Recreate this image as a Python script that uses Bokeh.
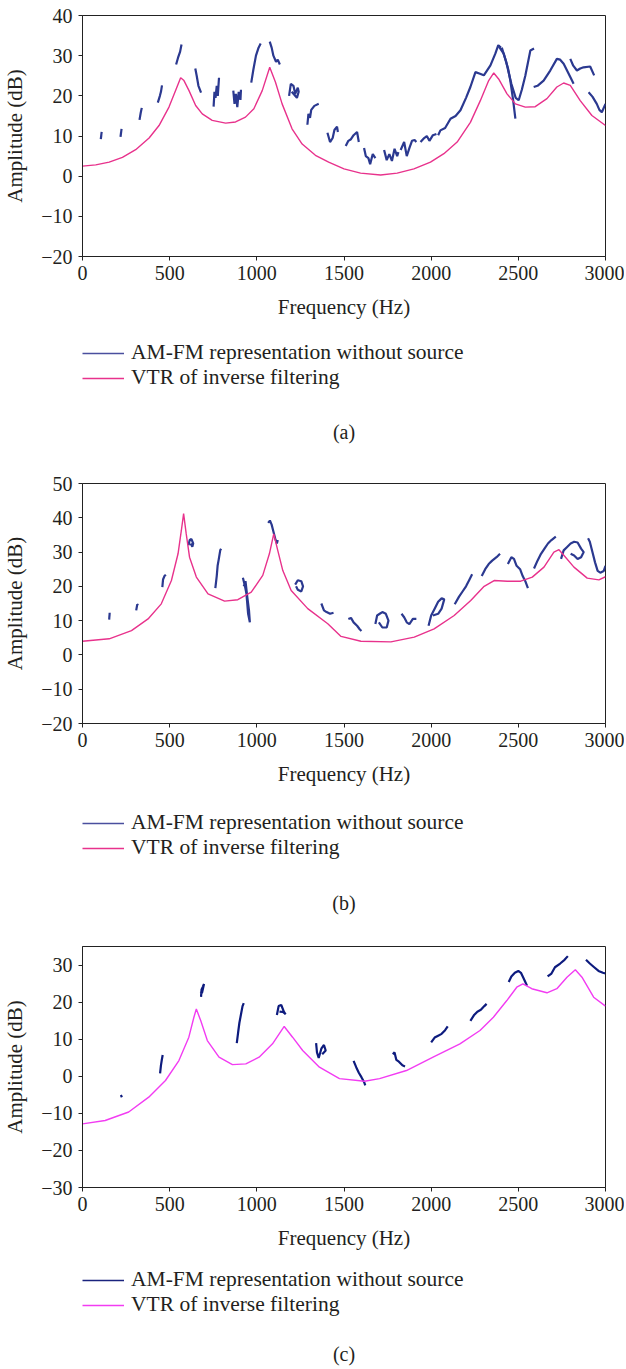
from bokeh.plotting import figure
from bokeh.layouts import column
from bokeh.models import FixedTicker, Range1d, Legend, LegendItem, Label
from bokeh.embed import file_html
from bokeh.resources import INLINE

FONT = "Liberation Serif"
TXT = "#231F20"
NAN = float("nan")

freq_ticks = [0, 500, 1000, 1500, 2000, 2500, 3000]
legend_labels = ["AM-FM representation without source", "VTR of inverse filtering"]
x_title = "Frequency (Hz)"
y_title = "Amplitude (dB)"

# ---------------- panel (a) ----------------
a_yticks = [-20, -10, 0, 10, 20, 30, 40]
a_vtr_freq = [0, 76, 153, 229, 305, 382, 439, 496, 534, 563, 582, 611, 649, 687, 744, 821, 878, 935,
              983, 1031, 1074, 1107, 1145, 1202, 1260, 1336, 1412, 1500, 1595, 1710, 1805, 1901,
              1996, 2073, 2149, 2225, 2282, 2330, 2359, 2387, 2435, 2483, 2540, 2597, 2664, 2721,
              2760, 2798, 2855, 2922, 3000]
a_vtr_db = [2.5, 2.8, 3.5, 4.7, 6.6, 9.5, 12.6, 17.2, 21.3, 24.5, 23.8, 21.3, 17.6, 15.5, 13.9, 13.2,
            13.5, 14.7, 16.8, 21.3, 27.1, 23.4, 18.0, 11.8, 8.0, 5.2, 3.5, 1.8, 0.75, 0.3, 0.75, 1.8,
            3.5, 5.6, 8.5, 13.4, 18.8, 23.8, 25.7, 24.2, 20.5, 18.0, 17.2, 17.3, 19.3, 22.2,
            23.2, 22.6, 18.8, 15.1, 12.6]
a_amfm_freq = [
    [105, 110],
    [218, 224],
    [327, 334, 340],
    [432, 444, 450, 456],
    [537, 548, 560, 568],
    [647, 655, 665, 680],
    [752, 757, 763, 770, 776, 783],
    [865, 872, 880, 888, 896, 906, 909],
    [968, 980, 995, 1010, 1022],
    [1074, 1085, 1095, 1110, 1120, 1132],
    [1185, 1195, 1210, 1220, 1235, 1240, 1230, 1200],
    [1290, 1296, 1305, 1312, 1330, 1355],
    [1405, 1420, 1435, 1445, 1460, 1465],
    [1510, 1525, 1540, 1555, 1575, 1585],
    [1615, 1625, 1640, 1650, 1665, 1680],
    [1730, 1745, 1760, 1775, 1790, 1805, 1812],
    [1825, 1845, 1860, 1875, 1890, 1905, 1915],
    [1939, 1960, 1975, 1990, 2010, 2030],
    [2040, 2053, 2080, 2111, 2140, 2168, 2200, 2225, 2254, 2280, 2302, 2340, 2368, 2385, 2400],
    [2385, 2416, 2440, 2454, 2470, 2483],
    [2405, 2430, 2460, 2485, 2502, 2520, 2540, 2569, 2590],
    [2588, 2610, 2645, 2683, 2721, 2740, 2760, 2798, 2817],
    [2798, 2815, 2836, 2855, 2874, 2912, 2935],
    [2903, 2925, 2950, 2965, 2979, 3000],
]
a_amfm_db = [
    [9.2, 11.0],
    [9.8, 11.8],
    [14.0, 15.8, 17.0],
    [18.3, 20.0, 21.0, 22.6],
    [27.8, 29.5, 31.0, 32.8],
    [26.8, 25.0, 22.5, 20.8],
    [17.3, 21.0, 19.5, 22.5, 20.0, 24.5],
    [21.3, 18.0, 20.5, 17.2, 21.0, 19.0, 21.5],
    [23.3, 26.5, 30.0, 32.0, 33.0],
    [33.5, 32.0, 30.0, 28.5, 29.0, 27.8],
    [20.0, 23.0, 22.5, 20.5, 22.0, 21.0, 19.5, 21.0],
    [12.8, 15.5, 14.5, 16.5, 17.5, 18.0],
    [10.8, 8.5, 9.5, 11.5, 12.3, 11.0],
    [7.5, 8.8, 9.2, 10.2, 11.0, 8.5],
    [7.0, 5.0, 4.5, 3.0, 5.5, 4.5],
    [6.5, 4.0, 5.5, 3.8, 6.8, 5.0, 6.0],
    [6.5, 8.5, 5.0, 7.0, 8.8, 9.0, 8.5],
    [8.5, 9.5, 10.0, 8.8, 10.2, 10.5],
    [10.2, 11.4, 12.0, 14.3, 15.0, 16.4, 19.5, 22.2, 25.9, 25.5, 25.1, 27.6, 30.5, 32.6, 32.0],
    [32.5, 30.5, 27.0, 23.8, 19.0, 14.3],
    [32.0, 28.5, 23.0, 19.5, 18.9, 21.5, 25.0, 31.3, 31.8],
    [22.2, 22.5, 23.8, 26.3, 29.2, 29.0, 28.0, 24.7, 23.0],
    [29.2, 27.5, 26.3, 26.8, 27.1, 27.3, 25.1],
    [20.9, 19.8, 18.0, 16.5, 15.9, 18.0],
]

# ---------------- panel (b) ----------------
b_yticks = [-20, -10, 0, 10, 20, 30, 40, 50]
b_vtr_freq = [0, 153, 281, 376, 452, 510, 548, 567, 580, 595, 614, 653, 720, 815, 891, 968, 1034,
              1072, 1097, 1120, 1149, 1197, 1292, 1407, 1483, 1597, 1769, 1903, 2017, 2132, 2227,
              2304, 2361, 2437, 2514, 2580, 2647, 2704, 2733, 2762, 2819, 2895, 2962, 3000]
b_vtr_db = [4.0, 4.7, 7.1, 10.5, 14.9, 21.7, 29.5, 36.3, 41.2, 35.3, 28.5, 22.7, 17.8, 15.7, 16.1,
            18.3, 23.2, 29.5, 35.3, 30.5, 24.6, 18.8, 13.5, 9.1, 5.4, 4.0, 3.8, 5.2, 7.6, 11.5,
            15.9, 20.0, 21.7, 21.5, 21.5, 22.7, 25.6, 30.0, 30.7, 29.0, 25.6, 22.4, 21.9, 22.8]
b_amfm_freq = [
    [153, 156],
    [308, 314, 320],
    [458, 462, 470, 478],
    [608, 615, 625, 635, 630, 620],
    [762, 770, 775, 782, 790, 795],
    [920, 930, 940, 945, 950, 960, 955, 945, 935, 925],
    [1065, 1075, 1085, 1095, 1105, 1115, 1120],
    [1220, 1235, 1255, 1265, 1255, 1235, 1225],
    [1370, 1385, 1400, 1420, 1440],
    [1525, 1540, 1555, 1575, 1590, 1600],
    [1680, 1690, 1705, 1720, 1740, 1755, 1745, 1720, 1700],
    [1830, 1845, 1860, 1875, 1895, 1915],
    [1985, 2000, 2020, 2040, 2060, 2075, 2060, 2040, 2010],
    [2135, 2160, 2180, 2200, 2220, 2235],
    [2290, 2310, 2330, 2350, 2375, 2395],
    [2440, 2460, 2475, 2490, 2510, 2525, 2540, 2555],
    [2590, 2610, 2630, 2650, 2670, 2690, 2715],
    [2745, 2760, 2780, 2800, 2820, 2840, 2860, 2875, 2860, 2840, 2820, 2800],
    [2900, 2910, 2925, 2940, 2955, 2970, 2990, 3000],
]
b_amfm_db = [
    [10.3, 12.3],
    [13.0, 14.7, 14.5],
    [19.8, 22.0, 23.0, 23.4],
    [32.0, 33.5, 33.8, 32.5, 31.6, 32.5],
    [19.5, 23.0, 26.0, 28.0, 30.5, 31.0],
    [22.5, 20.5, 18.0, 15.0, 12.0, 9.5, 13.0, 17.0, 21.5, 20.0],
    [38.5, 39.2, 38.0, 36.0, 34.0, 32.5, 33.5],
    [20.5, 21.8, 21.5, 20.0, 18.5, 19.0, 20.0],
    [15.0, 13.0, 12.5, 12.0, 12.3],
    [10.5, 10.8, 9.5, 8.5, 7.5, 7.0],
    [9.0, 11.5, 12.0, 12.5, 12.0, 10.0, 8.0, 8.0, 9.5],
    [12.0, 11.0, 9.5, 9.0, 10.5, 10.5],
    [8.5, 11.5, 13.5, 15.5, 16.5, 16.2, 13.5, 12.0, 11.5],
    [14.8, 17.0, 18.5, 20.0, 22.0, 23.5],
    [23.0, 25.0, 26.5, 27.5, 28.5, 29.5],
    [26.5, 28.5, 28.0, 26.0, 25.0, 23.0, 21.5, 19.5],
    [25.2, 27.5, 29.5, 31.0, 32.5, 33.5, 34.5],
    [28.0, 30.5, 31.5, 32.5, 33.0, 32.8, 31.0, 30.0, 28.5, 28.0, 29.0, 29.5],
    [34.0, 33.0, 30.0, 27.0, 24.5, 24.0, 24.5, 26.0],
]

# ---------------- panel (c) ----------------
c_yticks = [-30, -20, -10, 0, 10, 20, 30]
c_vtr_freq = [0, 130, 265, 380, 476, 553, 610, 639, 653, 678, 716, 783, 860, 937, 1013, 1090, 1157,
              1205, 1263, 1359, 1474, 1618, 1704, 1858, 2011, 2165, 2280, 2357, 2434, 2491, 2526,
              2577, 2664, 2721, 2779, 2827, 2865, 2932, 3000]
c_vtr_db = [-12.8, -11.9, -9.6, -5.6, -1.1, 4.3, 10.6, 16.0, 18.2, 15.1, 9.7, 5.2, 3.2, 3.4, 5.2,
            8.8, 13.5, 10.6, 7.0, 2.5, -0.6, -1.3, -0.6, 1.6, 5.2, 8.8, 12.4, 16.0, 20.5, 24.1,
            25.0, 23.7, 22.6, 23.7, 26.8, 28.8, 26.8, 21.4, 19.0]
c_amfm_freq = [
    [220, 226],
    [445, 450, 455, 460],
    [680, 683, 690, 697, 685, 678],
    [885, 893, 900, 910, 918, 925],
    [1115, 1125, 1140, 1155, 1165, 1150, 1130],
    [1340, 1345, 1355, 1370, 1385, 1395, 1375],
    [1555, 1570, 1585, 1600, 1615, 1622],
    [1780, 1790, 1800, 1815, 1835, 1850],
    [2000, 2020, 2040, 2060, 2080, 2095],
    [2225, 2245, 2265, 2285, 2305, 2318],
    [2445, 2460, 2480, 2500, 2515, 2530, 2550],
    [2668, 2690, 2710, 2740, 2765, 2784],
    [2888, 2910, 2935, 2960, 2985, 3000],
]
c_amfm_db = [
    [-5.0, -5.6],
    [0.8, 3.0, 4.5, 5.8],
    [21.5, 23.5, 24.2, 25.0, 22.5, 23.0],
    [9.0, 12.0, 14.5, 17.0, 19.0, 19.8],
    [16.6, 19.0, 19.3, 17.5, 16.8, 17.4, 17.5],
    [9.0, 6.5, 5.0, 7.5, 8.5, 7.0, 6.0],
    [4.2, 2.5, 1.0, -0.2, -1.5, -2.4],
    [6.0, 6.5, 4.5, 4.0, 3.0, 2.7],
    [9.2, 10.5, 11.0, 11.5, 12.5, 13.5],
    [15.0, 16.5, 17.5, 18.0, 19.0, 19.6],
    [25.5, 27.0, 28.0, 28.5, 28.0, 26.5, 24.5],
    [27.0, 27.8, 29.5, 30.5, 31.5, 32.5],
    [31.5, 30.5, 29.5, 28.5, 28.0, 27.8],
]

W = 624
B_LEFT = 81
B_RIGHT = 19
FRAME_W = W - B_LEFT - B_RIGHT


def chart(vtr_f, vtr_db, seg_f, seg_db, y_lo, y_hi, yticks, blue, pink, height, b_top, b_bottom):
    p = figure(width=W, height=height, x_range=Range1d(0, 3000), y_range=Range1d(y_lo, y_hi),
               output_backend="svg", toolbar_location=None,
               min_border_left=B_LEFT, min_border_right=B_RIGHT,
               min_border_top=b_top, min_border_bottom=b_bottom,
               x_axis_label=x_title, y_axis_label=y_title)
    p.background_fill_color = "white"
    p.border_fill_color = "white"
    p.outline_line_color = "#222222"
    p.outline_line_width = 1
    p.xgrid.grid_line_color = None
    p.ygrid.grid_line_color = None
    p.xaxis.ticker = FixedTicker(ticks=freq_ticks)
    p.yaxis.ticker = FixedTicker(ticks=yticks)
    p.yaxis.major_label_overrides = {t: "\u2212" + str(abs(t)) for t in yticks if t < 0}
    for ax in (p.xaxis[0], p.yaxis[0]):
        ax.axis_line_color = "#222222"
        ax.major_tick_line_color = "#222222"
        ax.major_tick_out = 4
        ax.major_tick_in = 0
        ax.minor_tick_line_color = None
        ax.major_label_text_font = FONT
        ax.major_label_text_font_size = "20px"
        ax.major_label_text_color = TXT
        ax.axis_label_text_font = FONT
        ax.axis_label_text_font_size = "21px"
        ax.axis_label_text_font_style = "normal"
        ax.axis_label_text_color = TXT
    p.xaxis.major_label_standoff = 5
    p.xaxis.axis_label_standoff = 12
    p.yaxis.major_label_standoff = 6
    p.yaxis.axis_label_standoff = 11

    p.multi_line(xs=seg_f, ys=seg_db, line_color=blue, line_width=2.2)
    p.line(vtr_f, vtr_db, line_color=pink, line_width=1.4)
    return p


def key(blue, pink, caption, height, leg_y, cap_y):
    q = figure(width=W, height=height, x_range=Range1d(0, FRAME_W), y_range=Range1d(0, height),
               output_backend="svg", toolbar_location=None, x_axis_type=None, y_axis_type=None,
               min_border=0, min_border_left=B_LEFT, min_border_right=B_RIGHT,
               min_border_top=0, min_border_bottom=0)
    q.outline_line_color = None
    q.background_fill_color = "white"
    q.border_fill_color = "white"
    q.xgrid.visible = False
    q.ygrid.visible = False
    rb = q.line(x=[NAN], y=[NAN], line_color=blue, line_width=1.5)
    rp = q.line(x=[NAN], y=[NAN], line_color=pink, line_width=1.5)
    legend = Legend(items=[LegendItem(label=legend_labels[0], renderers=[rb]),
                           LegendItem(label=legend_labels[1], renderers=[rp])],
                    location=(0, leg_y), orientation="vertical",
                    border_line_color=None, background_fill_alpha=0,
                    padding=0, margin=0, spacing=0,
                    glyph_width=42, glyph_height=20, label_height=20, label_standoff=7,
                    label_text_font=FONT, label_text_font_size="21.5px", label_text_color=TXT)
    q.add_layout(legend)
    q.add_layout(Label(x=FRAME_W / 2, y=cap_y, text=caption, text_align="center",
                       text_baseline="middle", text_font=FONT, text_font_size="20px",
                       text_color=TXT))
    return q


pa = chart(a_vtr_freq, a_vtr_db, a_amfm_freq, a_amfm_db, -20, 40, a_yticks,
           "#2B3990", "#E8328C", height=334, b_top=15, b_bottom=78)
ka = key("#4A4F9E", "#E8328C", "(a)", height=128, leg_y=72, cap_y=31)
pb = chart(b_vtr_freq, b_vtr_db, b_amfm_freq, b_amfm_db, -20, 50, b_yticks,
           "#2B3990", "#E8328C", height=339, b_top=21, b_bottom=78)
kb = key("#4A4F9E", "#E8328C", "(b)", height=131, leg_y=72, cap_y=30)
pc = chart(c_vtr_freq, c_vtr_db, c_amfm_freq, c_amfm_db, -30, 35.1, c_yticks,
           "#0D1B7E", "#F23CF2", height=333, b_top=14, b_bottom=78)
kc = key("#1A237E", "#F23CF2", "(c)", height=102, leg_y=50, cap_y=14)

layout = column(pa, ka, pb, kb, pc, kc, spacing=0)
open("out.html", "w").write(file_html(layout, INLINE))
